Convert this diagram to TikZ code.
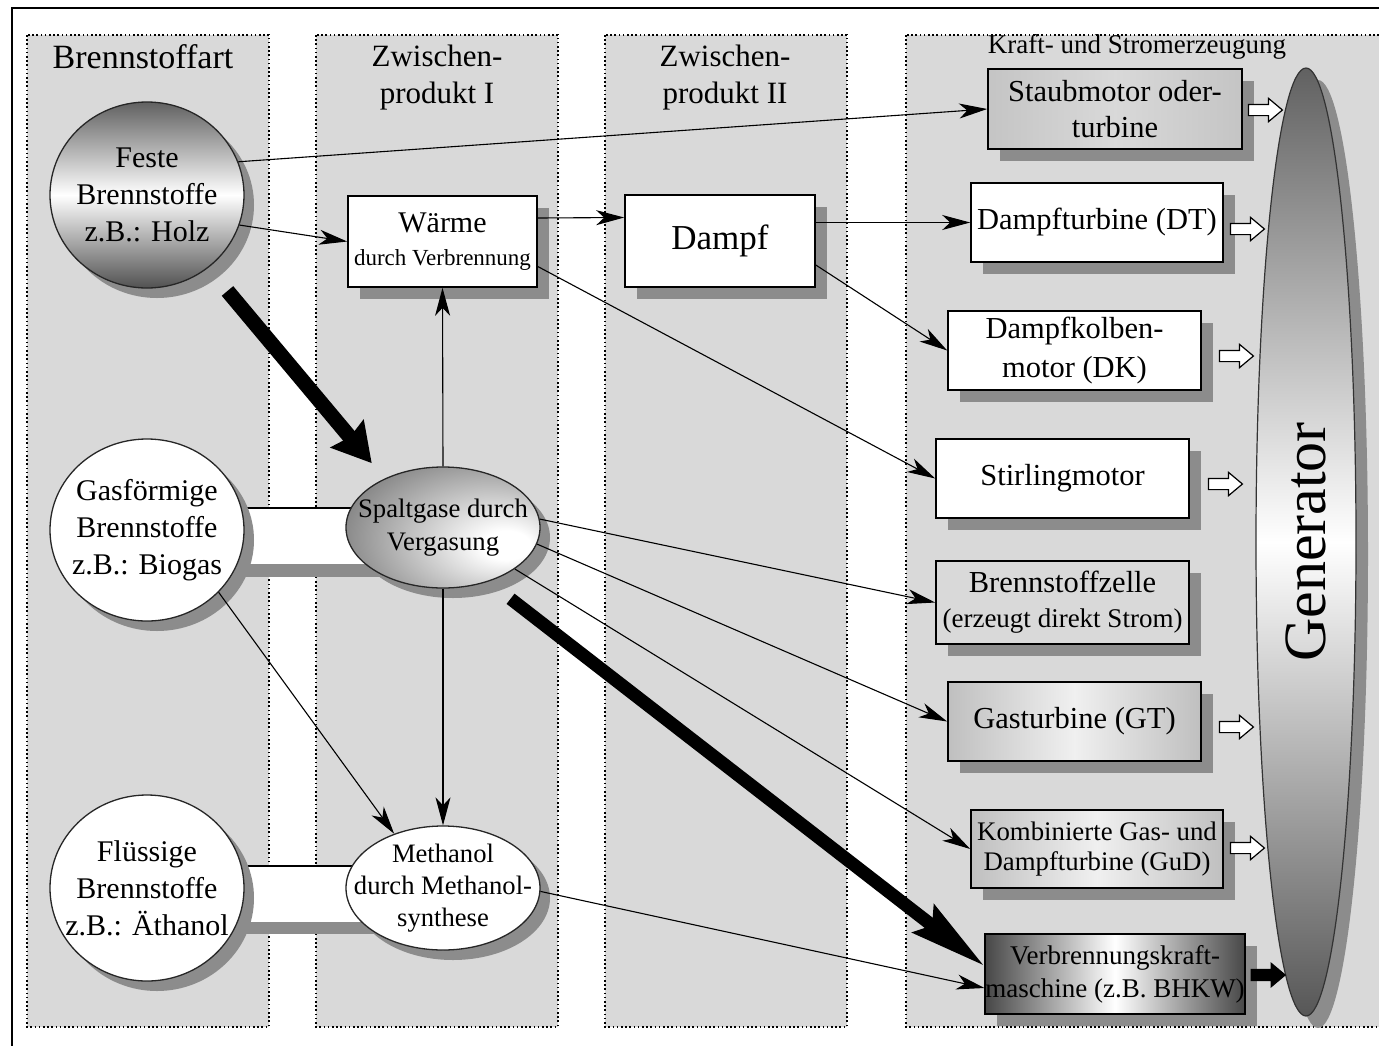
\documentclass[tikz,border=0pt]{standalone}
\usepackage{fontspec}
\setmainfont{Liberation Serif}
\usetikzlibrary{shapes.geometric,shapes.arrows,shadows,arrows.meta}
\definecolor{colbg}{RGB}{217,217,217}
\definecolor{shadowgray}{RGB}{140,140,140}
\pgfdeclareradialshading{spaltshade}{\pgfpoint{18bp}{-8bp}}{color(0bp)=(white); color(6bp)=(white); color(42bp)=(black!58); color(70bp)=(black!62)}
\newcommand{\fsz}[2]{\fontsize{#1}{#2}\selectfont}
\tikzset{
 colbox/.style={fill=colbg, draw=black, line width=1.3pt, dash pattern=on 1.6pt off 2.6pt},
 hdr/.style={align=center, inner sep=0pt},
 shA/.style={drop shadow={shadow xshift=12pt, shadow yshift=-12pt, fill=shadowgray, opacity=1}},
 shB/.style={drop shadow={shadow xshift=10pt, shadow yshift=-10pt, fill=shadowgray, opacity=1}},
 circ/.style={ellipse, draw=black!85, line width=1.3pt, inner sep=-40pt, minimum width=194pt, minimum height=186pt, align=center, font=\fsz{30}{37}, shB},
 oval/.style={ellipse, draw=black!85, line width=1.3pt, inner sep=-40pt, minimum width=194pt, minimum height=122pt, align=center, font=\fsz{26.7}{33}, shB},
 sbox/.style={rectangle, draw=black, line width=1.6pt, inner sep=0pt, align=center, font=\fsz{30.5}{36}, shA},
 conn/.style={line width=1.1pt, -{Stealth[length=28pt, width=15pt, inset=8pt]}},
 fatA/.style={line width=15pt, -{Stealth[length=38pt, width=42pt, inset=4pt]}},
 fatB/.style={line width=13pt, -{Stealth[length=76pt, width=34pt, inset=10pt]}},
 harrow/.style={single arrow, draw=black, line width=1.2pt, fill=white, minimum height=34pt, inner xsep=0pt, inner ysep=5pt, single arrow head extend=6pt, single arrow tip angle=80, anchor=west},
}
\begin{document}
\begin{tikzpicture}[x=1pt,y=-1pt]
\useasboundingbox (0,0) rectangle (1379,1045);
\fill[white] (0,0) rectangle (1379,1045);
% frame
\draw[line width=2pt] (12,1060) -- (12,8) -- (1395,8);
% columns
\path[colbox] (27,35) rectangle (269,1027);
\path[colbox] (316,35) rectangle (558,1027);
\path[colbox] (605,35) rectangle (847,1027);
\path[colbox] (906,35) rectangle (1400,1027);
% headers
\node[hdr, font=\fsz{34}{37}] (h1) at (143,57) {Brennstoffart};
\node[hdr, font=\fsz{31}{37}] (h2) at (437,78) {Zwischen-\\produkt I};
\node[hdr, font=\fsz{31}{37}] (h3) at (725,78) {Zwischen-\\produkt II};
\node[hdr, font=\fsz{27}{30}] (h4) at (1137,47) {Kraft- und Stromerzeugung};
% white bars
\fill[shadowgray] (200,520) rectangle (400,577);
\fill[white] (200,508) rectangle (400,564);
\draw[line width=1.4pt] (230,508) -- (380,508);
\fill[shadowgray] (200,878) rectangle (400,934);
\fill[white] (200,866) rectangle (400,922);
\draw[line width=1.4pt] (230,866) -- (380,866);
% left column
\node[circ, top color=black!62, bottom color=black!68, middle color=white] (feste) at (147,195) {Feste\\Brennstoffe\\z.B.: Holz};
\node[circ, fill=white, minimum height=182pt] (gas) at (147,530) {Gasförmige\\Brennstoffe\\z.B.: Biogas};
\node[circ, fill=white] (fl) at (147,888) {Flüssige\\Brennstoffe\\z.B.: Äthanol};
% middle
\node[sbox, fill=white, minimum width=189pt, minimum height=91pt, font=\fsz{23}{33}] (waerme) at (442.5,241.5) {{\fsz{30}{33}Wärme}\\durch Verbrennung};
\node[sbox, fill=white, minimum width=190pt, minimum height=92pt, font=\fsz{35}{40}] (dampf) at (720,241) {Dampf};
\node[oval, shade, shading=spaltshade, minimum height=121pt] (spalt) at (443,527.5) {Spaltgase durch\\Vergasung};
\node[oval, fill=white, minimum height=124pt, font=\fsz{26.6}{32}] (meth) at (443,888) {Methanol\\durch Methanol-\\synthese};
% right boxes
\node[sbox, left color=black!23, right color=black!23, middle color=black!15, minimum width=254pt, minimum height=80pt] (staub) at (1115,109) {Staubmotor oder-\\turbine};
\node[sbox, fill=white, minimum width=252pt, minimum height=79pt] (dt) at (1097,222.5) {Dampfturbine (DT)};
\node[sbox, fill=white, minimum width=253pt, minimum height=79pt, font=\fsz{30.5}{39}] (dk) at (1074.5,350.5) {Dampfkolben-\\motor (DK)};
\node[sbox, fill=white, minimum width=253pt, minimum height=79pt] (stirling) at (1062.5,478.5) {Stirlingmotor};
\node[sbox, fill=black!15, minimum width=253pt, minimum height=83pt, font=\fsz{27}{35}] (bz) at (1062.5,602.5) {{\fsz{30.5}{35}Brennstoffzelle}\\(erzeugt direkt Strom)};
\node[sbox, left color=black!25, right color=black!25, middle color=black!6, minimum width=253pt, minimum height=79pt] (gt) at (1074.5,721.5) {Gasturbine (GT)};
\node[sbox, left color=black!25, right color=black!25, middle color=black!6, minimum width=252pt, minimum height=78pt, font=\fsz{26.8}{30}] (gud) at (1097,849) {Kombinierte Gas- und\\Dampfturbine (GuD)};
\node[sbox, left color=black!72, right color=black!72, middle color=white, minimum width=254pt, minimum height=80pt, font=\fsz{27}{33}] (vb) at (1115,974) {Verbrennungskraft-\\maschine (z.B. BHKW)};
% generator
\node[ellipse, draw=black!80, line width=1.2pt, top color=black!62, bottom color=black!66, middle color=white, minimum width=100pt, minimum height=948pt, inner sep=-40pt, shA, font=\fsz{60}{60}] (gen) at (1306,542) {\rotatebox{90}{Generator}};
% block arrows to generator
\node[harrow] (a1) at ([xshift=5pt,yshift=-1pt]staub.east) {};
\node[harrow] (a2) at ([xshift=6pt,yshift=-6.5pt]dt.east) {};
\node[harrow] (a3) at ([xshift=17pt,yshift=-5.5pt]dk.east) {};
\node[harrow] (a4) at ([xshift=18pt,yshift=-5.5pt]stirling.east) {};
\node[harrow] (a6) at ([xshift=17pt,yshift=-5.5pt]gt.east) {};
\node[harrow] (a7) at ([xshift=6pt,yshift=1pt]gud.east) {};
\node[harrow, fill=black] (a8) at ([xshift=5pt,yshift=-1pt]vb.east) {};
% connectors
\draw[conn] (feste.20) -- (staub.west);
\draw[conn] (feste.-18) -- (waerme.west);
\draw[conn] ([yshift=23.5pt]waerme.east) -- ([yshift=23.5pt]dampf.west);
\draw[conn] (dampf.east |- dt.west) -- (dt.west);
\draw[conn] ([yshift=-24pt]dampf.east) -- (dk.west);
\draw[conn] ([yshift=-25pt]waerme.east) -- (stirling.west);
\draw[conn] (spalt.north) -- (waerme.south);
\draw[conn] (spalt.south) -- (meth.north);
\draw[conn] (spalt.5) -- (bz.west);
\draw[conn] (spalt.-10) -- (gt.west);
\draw[conn] (spalt.-30) -- (gud.west);
\draw[conn] (gas.-41) -- (meth.132);
\draw[conn] (meth.-2) -- ([yshift=-14pt]vb.west);
\draw[fatA, shorten <=30pt, shorten >=20pt] (feste.-50) -- (spalt.140);
\draw[fatB, shorten <=28pt] (spalt.-50) -- ([yshift=8pt]vb.west);
\end{tikzpicture}
\end{document}
